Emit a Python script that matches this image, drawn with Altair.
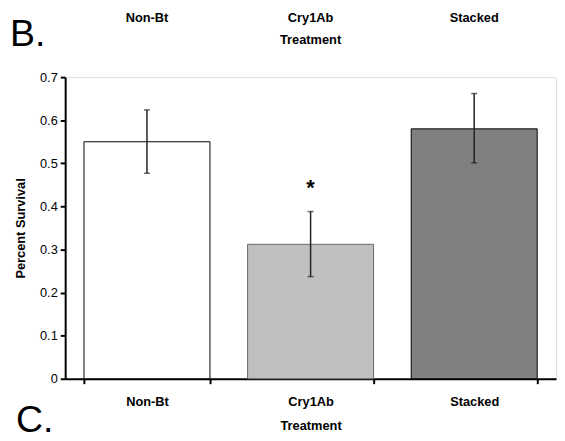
import altair as alt
import pandas as pd

treatments = ["Non-Bt", "Cry1Ab", "Stacked"]
survival = [0.550, 0.312, 0.580]
err_low = [0.477, 0.237, 0.501]
err_high = [0.624, 0.388, 0.662]
signif = ["", "*", ""]
fills = ["#ffffff", "#c0c0c0", "#808080"]
strokes = ["#000000", "#666666", "#000000"]
y_ticks = [0, 0.1, 0.2, 0.3, 0.4, 0.5, 0.6, 0.7]

df = pd.DataFrame({"Treatment": treatments, "Survival": survival,
                   "lo": err_low, "hi": err_high, "sig": signif})
FONT = "Liberation Sans"

xscale = alt.Scale(domain=treatments, paddingInner=0.23, paddingOuter=0.115)
yscale = alt.Scale(domain=[0, 0.7], nice=False)

x_enc = alt.X("Treatment:N", scale=xscale, sort=treatments,
              axis=alt.Axis(title="Treatment", labelAngle=0, tickBand="extent",
                            labelFontWeight="bold", labelFontSize=13, labelPadding=12,
                            titleFontSize=13, titleFontWeight="bold", titlePadding=12,
                            domainWidth=2, tickWidth=2, tickSize=5,
                            domainColor="black", tickColor="black",
                            labelColor="black", titleColor="black",
                            labelFont=FONT, titleFont=FONT))

bars = alt.Chart(df).mark_bar(strokeWidth=1).encode(
    x=x_enc,
    y=alt.Y("Survival:Q", scale=yscale,
            axis=alt.Axis(title="Percent Survival", values=y_ticks, format=".1~f",
                          grid=False, labelFontSize=13, titleFontSize=13,
                          titleFontWeight="bold", titlePadding=12,
                          domainWidth=2, tickWidth=2, tickSize=5, labelPadding=3,
                          domainColor="black", tickColor="black",
                          labelColor="black", titleColor="black",
                          labelFont=FONT, titleFont=FONT)),
    fill=alt.Fill("Treatment:N", scale=alt.Scale(domain=treatments, range=fills), legend=None),
    stroke=alt.Stroke("Treatment:N", scale=alt.Scale(domain=treatments, range=strokes), legend=None),
)

rules = alt.Chart(df).mark_rule(color="#222222", strokeWidth=1.5).encode(
    x=alt.X("Treatment:N", scale=xscale, sort=treatments),
    y=alt.Y("lo:Q", scale=yscale), y2="hi:Q")

caps_lo = alt.Chart(df).mark_tick(color="#222222", size=6, thickness=1.5).encode(
    x=alt.X("Treatment:N", scale=xscale, sort=treatments),
    y=alt.Y("lo:Q", scale=yscale))
caps_hi = alt.Chart(df).mark_tick(color="#222222", size=6, thickness=1.5).encode(
    x=alt.X("Treatment:N", scale=xscale, sort=treatments),
    y=alt.Y("hi:Q", scale=yscale))

star = alt.Chart(df).mark_text(fontSize=22, fontWeight="bold", font=FONT, dy=9).encode(
    x=alt.X("Treatment:N", scale=xscale, sort=treatments),
    y=alt.Y("hi:Q", scale=yscale), text="sig:N"
).transform_calculate(hi="datum.hi + 0.075")

top_labels = alt.Chart(df).mark_text(fontSize=13, fontWeight="bold", font=FONT,
                                     baseline="middle").encode(
    x=alt.X("Treatment:N", scale=xscale, sort=treatments),
    y=alt.value(-60), text="Treatment:N")

other = pd.DataFrame({"t": ["Treatment"]})
top_title = alt.Chart(other).mark_text(fontSize=13, fontWeight="bold", font=FONT,
                                       baseline="middle").encode(
    x=alt.value(249), y=alt.value(-38), text="t:N")

letters = pd.DataFrame({"t": ["B.", "C."], "px": [-56, -50], "py": [-32, 360]})
letter_marks = alt.Chart(letters).mark_text(fontSize=38, font=FONT, align="left",
                                            baseline="alphabetic").encode(
    x=alt.X("px:Q", scale=None), y=alt.Y("py:Q", scale=None), text="t:N")

chart = alt.layer(bars, rules, caps_lo, caps_hi, star, top_labels, top_title,
                  letter_marks).properties(
    width=498, height=306,
    autosize=alt.AutoSizeParams(type="none"),
    padding={"left": 58, "top": 67, "right": 1, "bottom": 60},
).configure_view(stroke=None).configure(font=FONT)

chart.save("out.html", embed_options={"renderer": "svg", "actions": False})
